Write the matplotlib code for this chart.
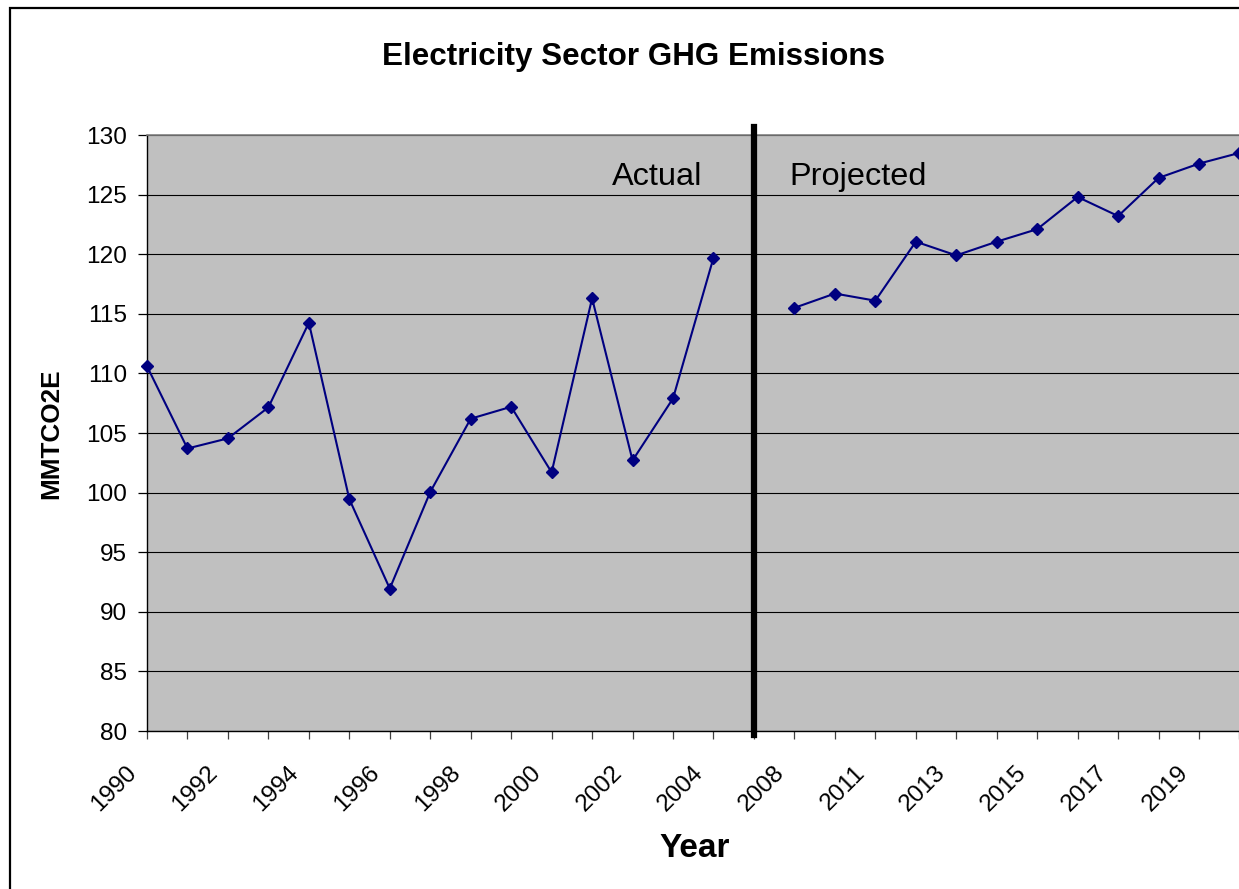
import numpy as np
import matplotlib
matplotlib.use("Agg")
import matplotlib.pyplot as plt
from matplotlib.patches import Rectangle
from matplotlib.transforms import ScaledTranslation

plt.rcParams['font.family'] = ['Liberation Sans', 'DejaVu Sans']

# ---- data ----
categories = ['1990', '1991', '1992', '1993', '1994', '1995', '1996', '1997',
              '1998', '1999', '2000', '2001', '2002', '2003', '2004', '',
              '2008', '2010', '2011', '2012', '2013', '2014', '2015', '2016',
              '2017', '2018', '2019', '2020']
actual = [110.6, 103.7, 104.55, 107.15, 114.25, 99.45, 91.95, 100.05,
          106.2, 107.2, 101.7, 116.3, 102.7, 107.9, 119.7]
projected = [115.5, 116.7, 116.1, 121.05, 119.9, 121.05, 122.1, 124.8,
             123.2, 126.4, 127.6, 128.5]
divider_category = ''
y_ticks = [80, 85, 90, 95, 100, 105, 110, 115, 120, 125, 130]

values = actual + [np.nan] + projected
x = np.arange(len(categories))
tick_labels = [c if i % 2 == 0 else '' for i, c in enumerate(categories)]

W, H = 1239, 889
fig = plt.figure(figsize=(W / 100, H / 100), dpi=100)
fig.patch.set_facecolor('white')

# figure border
fig.patches.append(Rectangle((9.5 / W, -0.1), 1.2, 1.1 - 7.5 / H,
                             transform=fig.transFigure, fill=False,
                             edgecolor='black', linewidth=1.6, clip_on=False))

left, right, top, bottom = 147, 1239.5, 135, 731
ax = fig.add_axes([left / W, 1 - bottom / H, (right - left) / W, (bottom - top) / H])
ax.set_facecolor('#C0C0C0')

ax.set_xlim(0, len(categories) - 1)
ax.set_ylim(80, 130)
ax.set_yticks(y_ticks)
ax.set_yticklabels([str(v) for v in y_ticks])
ax.yaxis.grid(True, color='black', linewidth=0.8)
ax.set_axisbelow(True)

ax.plot(x, values, color='#000080', linewidth=1.5, marker='D', markersize=6,
        markerfacecolor='#000080', markeredgecolor='#000080', clip_on=False, zorder=3)

div_x = categories.index(divider_category)
ax.axvline(div_x, ymin=-0.006, ymax=1.0134, color='black', linewidth=4.5,
           clip_on=False, zorder=4)

ax.set_xticks(x)
ax.set_xticklabels(tick_labels)

for s in ['left', 'bottom']:
    ax.spines[s].set_color('black')
    ax.spines[s].set_linewidth(1.0)
ax.spines['top'].set_color('#808080')
ax.spines['top'].set_linewidth(1.2)
ax.spines['right'].set_visible(False)

ax.tick_params(axis='y', direction='out', length=6.5, width=0.9, pad=8.0,
               labelsize=17.6, colors='black')
ax.tick_params(axis='x', direction='out', length=6, width=0.9, pad=16.0,
               labelsize=17.6, colors='black')
ax.tick_params(axis='x', color='#404040')

offset = ScaledTranslation(-0.06, 0, fig.dpi_scale_trans)
for lbl in ax.get_xticklabels():
    lbl.set_rotation(45)
    lbl.set_ha('right')
    lbl.set_va('top')
    lbl.set_transform(lbl.get_transform() + offset)

ax.text(12.6, 125.8, 'Actual', fontsize=23.4, ha='center', va='baseline', zorder=5)
ax.text(15.88, 125.8, 'Projected', fontsize=23.4, ha='left', va='baseline', zorder=5)

fig.text(633.5 / W, 1 - 65 / H, 'Electricity Sector GHG Emissions', fontsize=22.6,
         fontweight='bold', ha='center', va='baseline')
fig.text(694.5 / W, 1 - 857 / H, 'Year', fontsize=24, fontweight='bold',
         ha='center', va='baseline')
fig.text(51 / W, 1 - 434 / H, 'MMTCO2E', fontsize=18.8, fontweight='bold',
         rotation=90, ha='center', va='center')

fig.savefig('out.png', dpi=100)
